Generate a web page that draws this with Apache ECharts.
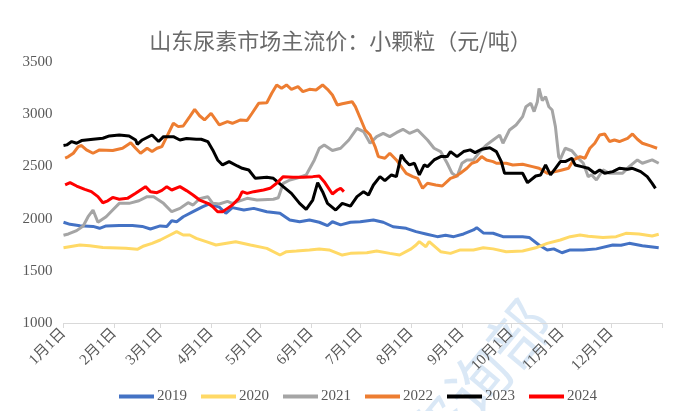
<!DOCTYPE html>
<html>
<head>
<meta charset="utf-8">
<script src="https://cdn.jsdelivr.net/npm/echarts@6/dist/echarts.min.js"></script>
<style>html,body{margin:0;padding:0;background:#fff;}#c{width:681px;height:411px;}</style>
</head>
<body>
<div id="c"></div>
<script>
const titleText = '山东尿素市场主流价：小颗粒（元/吨）';
const years = ['2019', '2020', '2021', '2022', '2023', '2024'];
const monthStarts = [0, 31, 59, 90, 120, 151, 181, 212, 243, 273, 304, 334];
const monthLabels = ['1月1日','2月1日','3月1日','4月1日','5月1日','6月1日','7月1日','8月1日','9月1日','10月1日','11月1日','12月1日'];
const tickDays = [0, 31, 59, 90, 120, 151, 181, 212, 243, 273, 304, 334, 365];

const d2019 = [0,4,10,18,22,26,34,42,48,53,59,63,66,69,73,79,85,89,95,99,103,110,116,124,132,138,144,150,156,161,164,169,175,181,189,195,201,209,215,221,228,233,238,244,250,252,256,262,268,280,284,290,295,299,304,309,317,325,335,340,345,353,363];
const v2019 = [1965,1945,1932,1925,1907,1930,1935,1935,1925,1900,1930,1925,1980,1970,2018,2066,2114,2140,2110,2051,2105,2082,2098,2066,2051,1987,1970,1987,1965,1932,1970,1940,1965,1970,1987,1965,1922,1907,1875,1853,1827,1840,1827,1853,1891,1913,1863,1860,1827,1827,1820,1747,1700,1710,1673,1700,1700,1710,1747,1745,1763,1740,1720];

const d2020 = [0,10,16,24,38,45,49,54,59,65,69,73,77,81,87,93,105,114,124,132,136,142,150,156,162,170,175,185,191,199,205,212,215,217,221,223,230,236,242,250,256,262,270,280,288,295,303,309,315,320,329,337,343,351,359,363];
const v2020 = [1720,1747,1740,1724,1716,1706,1738,1763,1795,1843,1875,1843,1843,1811,1779,1747,1779,1747,1715,1651,1683,1690,1700,1709,1700,1651,1667,1673,1690,1667,1651,1710,1747,1779,1731,1779,1683,1667,1700,1700,1720,1710,1683,1690,1720,1763,1795,1827,1843,1830,1820,1827,1859,1853,1833,1850];

const d2021 = [0,3,8,12,15,18,21,26,30,34,40,46,51,55,61,66,71,76,79,83,88,91,95,100,103,112,118,128,131,134,138,142,148,153,156,159,164,169,174,179,183,187,191,195,199,203,207,211,216,222,226,230,234,237,240,243,246,250,254,258,262,266,268,272,276,280,282,285,287,289,290,292,294,296,298,300,302,303,306,310,313,317,320,322,325,329,333,341,345,350,353,359,363];
const v2021 = [1840,1853,1885,1929,2018,2082,1965,2018,2082,2146,2146,2171,2210,2210,2146,2066,2098,2152,2130,2190,2210,2146,2140,2165,2146,2194,2178,2185,2200,2338,2370,2386,2418,2562,2674,2706,2652,2674,2753,2865,2833,2722,2785,2817,2785,2823,2855,2817,2849,2753,2674,2642,2530,2434,2402,2530,2562,2562,2642,2706,2753,2800,2722,2849,2897,2977,3072,3104,3025,3120,3248,3130,3168,3072,3040,2881,2594,2570,2674,2650,2594,2530,2402,2420,2370,2466,2434,2434,2498,2562,2530,2562,2530];

const d2022 = [1,3,6,9,11,14,18,22,30,36,39,41,44,47,51,54,57,60,63,67,70,73,77,80,83,86,90,95,100,103,108,112,115,119,124,127,130,133,136,139,143,146,150,154,158,161,164,167,170,173,176,178,181,184,187,190,192,196,199,203,206,209,213,216,219,222,227,231,236,239,242,246,249,252,255,258,262,264,270,274,280,286,290,295,300,304,308,311,315,318,321,324,327,330,333,336,339,344,347,350,353,358,362];
const v2022 = [2580,2594,2626,2690,2700,2658,2626,2658,2652,2674,2706,2727,2674,2626,2674,2642,2674,2690,2785,2913,2881,2887,2977,3047,2985,2945,3009,2897,2929,2913,2945,2940,3009,3104,3110,3200,3280,3248,3280,3238,3264,3216,3238,3232,3280,3238,3184,3088,3100,3110,3120,3072,2961,2849,2801,2690,2594,2578,2626,2562,2498,2434,2402,2386,2290,2338,2322,2312,2386,2402,2434,2482,2530,2546,2594,2562,2546,2530,2530,2514,2520,2498,2482,2434,2450,2466,2482,2562,2594,2578,2674,2722,2801,2811,2738,2753,2738,2769,2811,2760,2722,2696,2674];

const d2023 = [0,2,5,8,11,18,24,28,34,40,44,45,48,54,58,61,67,71,75,81,84,88,91,94,97,101,106,109,113,117,124,128,134,139,144,148,152,155,158,161,166,170,175,179,183,186,189,193,196,200,203,206,208,211,214,217,220,222,226,230,234,236,240,244,248,251,255,260,264,267,269,276,280,283,288,291,294,297,300,303,306,310,312,316,320,324,327,330,335,339,344,347,352,356,359,361];
const v2023 = [2700,2706,2738,2722,2747,2760,2770,2792,2800,2792,2753,2712,2753,2801,2738,2785,2785,2753,2767,2760,2760,2738,2658,2562,2514,2546,2504,2482,2466,2386,2396,2386,2306,2242,2146,2089,2178,2344,2258,2146,2082,2146,2120,2210,2258,2226,2322,2402,2364,2418,2402,2610,2562,2514,2530,2418,2514,2498,2562,2594,2594,2642,2594,2642,2658,2632,2664,2678,2642,2546,2434,2434,2434,2344,2408,2418,2514,2418,2482,2546,2546,2578,2514,2498,2482,2434,2466,2434,2450,2482,2472,2482,2450,2402,2338,2290];

const d2024 = [1,4,8,13,17,21,24,27,30,34,39,44,50,53,57,60,63,66,71,75,79,83,88,91,94,97,100,103,107,109,112,116,122,126,130,134,140,146,152,156,159,164,167,169,171];
const v2024 = [2322,2344,2312,2280,2258,2210,2152,2170,2203,2185,2194,2242,2306,2258,2248,2270,2306,2274,2306,2268,2226,2178,2146,2114,2066,2066,2098,2130,2194,2258,2242,2258,2274,2290,2338,2402,2396,2396,2402,2408,2354,2236,2274,2290,2258];

const colors = ['#4472C4', '#FFD966', '#A5A5A5', '#ED7D31', '#000000', '#FF0000'];
const dayArrays = [d2019, d2020, d2021, d2022, d2023, d2024];
const valArrays = [v2019, v2020, v2021, v2022, v2023, v2024];

const serif = "'Liberation Serif', 'Noto Sans CJK SC', serif";
const chart = echarts.init(document.getElementById('c'), null, {renderer: 'canvas'});
const series = years.map((y, i) => ({
  name: y,
  type: 'line',
  showSymbol: false,
  symbol: 'none',
  lineStyle: {width: 3, color: colors[i]},
  itemStyle: {color: colors[i]},
  data: dayArrays[i].map((d, k) => [d, valArrays[i][k]]),
  z: 2 + i
}));

chart.setOption({
  animation: false,
  backgroundColor: '#fff',
  title: {
    text: titleText,
    left: 'center',
    top: 25,
    textStyle: {fontFamily: "'Noto Sans CJK SC', sans-serif", fontWeight: 'normal', fontSize: 22, color: '#6a6a6a'}
  },
  legend: {
    data: years,
    bottom: 2,
    left: 114,
    icon: 'rect',
    itemWidth: 35,
    itemHeight: 4,
    itemGap: 14,
    itemStyle: {borderWidth: 0},
    textStyle: {fontFamily: serif, fontSize: 15, color: '#595959', padding: [0, 0, 0, -2]}
  },
  grid: {left: 63.5, right: 19, top: 62, bottom: 88, containLabel: false},
  xAxis: {
    type: 'value',
    min: 0,
    max: 365,
    axisLine: {show: true, lineStyle: {color: '#d9d9d9', width: 1}},
    axisTick: {show: true, length: 5, lineStyle: {color: '#d9d9d9'}, customValues: tickDays},
    axisLabel: {
      customValues: monthStarts,
      rotate: 45,
      margin: 8,
      fontFamily: serif,
      fontSize: 15,
      color: '#595959',
      formatter: v => monthLabels[monthStarts.indexOf(v)] || ''
    },
    splitLine: {show: false}
  },
  yAxis: {
    type: 'value',
    min: 1000,
    max: 3500,
    interval: 500,
    axisLine: {show: false},
    axisTick: {show: false},
    splitLine: {show: false},
    axisLabel: {fontFamily: serif, fontSize: 15, color: '#595959', margin: 11, formatter: v => String(v)}
  },
  graphic: [{
    type: 'text',
    left: 395,
    top: 290,
    rotation: 50 * Math.PI / 180,
    z: 0,
    silent: true,
    style: {text: '咨询部', fontSize: 62, fontFamily: "'Noto Sans CJK SC', sans-serif", fill: 'rgba(150,190,230,0.35)'}
  }],
  series: series
});
</script>
</body>
</html>
